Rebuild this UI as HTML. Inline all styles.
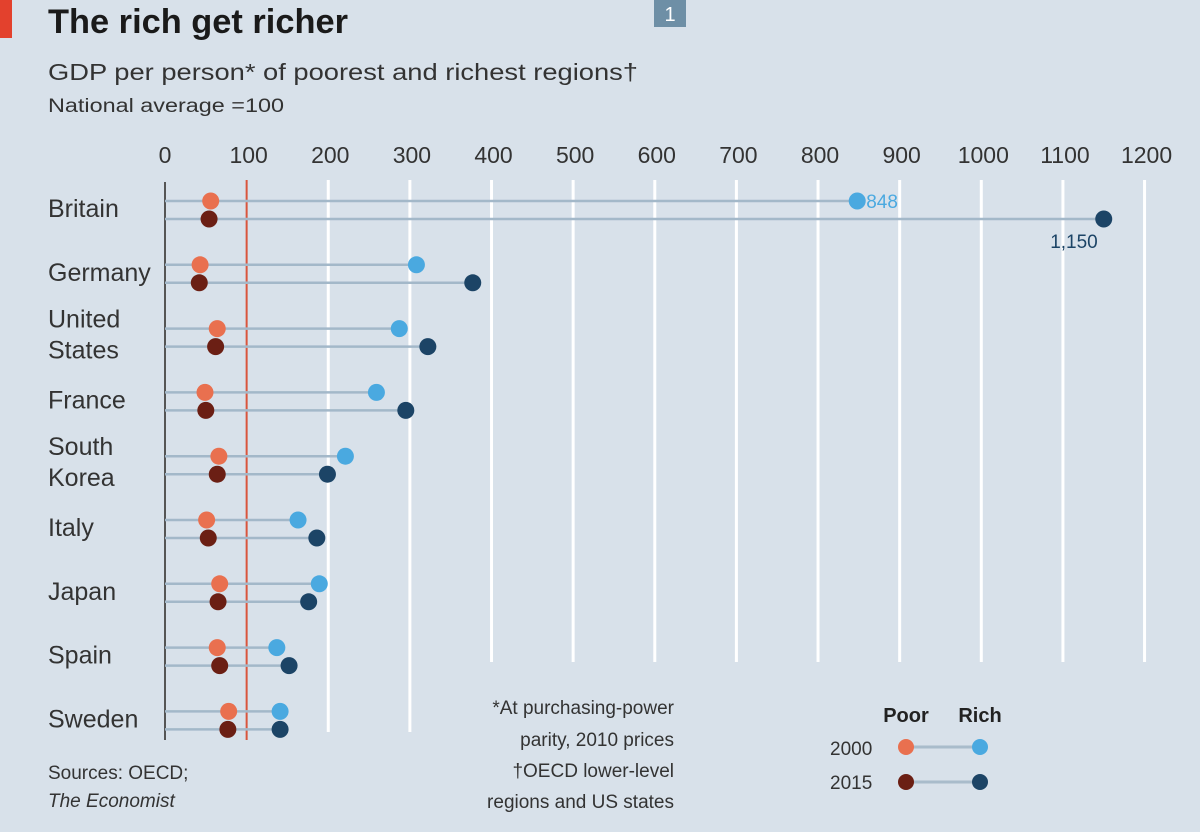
<!DOCTYPE html>
<html><head><meta charset="utf-8"><style>
body{margin:0;background:#d8e1ea;font-family:"Liberation Sans",sans-serif;}
#c{position:relative;width:1200px;height:832px;background:#d8e1ea;overflow:hidden}
</style></head><body>
<div id="c">
<svg id="s" width="1200" height="832">
<rect x="0" y="0" width="12" height="38" fill="#e3412d"/>
<text x="48" y="33" font-size="34" font-weight="bold" fill="#1a1a1a" textLength="300" lengthAdjust="spacingAndGlyphs">The rich get richer</text>
<rect x="654" y="0" width="32" height="27" fill="#6e8fa6"/>
<text x="670" y="21" font-size="20" fill="#fff" text-anchor="middle">1</text>
<text x="48" y="80" font-size="23" fill="#333" textLength="590" lengthAdjust="spacingAndGlyphs">GDP per person* of poorest and richest regions†</text>
<text x="48" y="112" font-size="19" fill="#333" textLength="236" lengthAdjust="spacingAndGlyphs">National average =100</text>
<g id="grid"></g><g id="rows"></g>
<text x="48" y="779" font-size="19" fill="#333">Sources: OECD;</text>
<text x="48" y="807" font-size="19" font-style="italic" fill="#333">The Economist</text>
<g font-size="19" fill="#333" text-anchor="end">
<text x="674" y="714">*At purchasing-power</text>
<text x="674" y="746">parity, 2010 prices</text>
<text x="674" y="777">†OECD lower-level</text>
<text x="674" y="808">regions and US states</text>
</g>
<g>
<text x="906" y="722" font-size="20" font-weight="bold" fill="#222" text-anchor="middle">Poor</text>
<text x="980" y="722" font-size="20" font-weight="bold" fill="#222" text-anchor="middle">Rich</text>
<text x="830" y="755" font-size="19" fill="#333">2000</text>
<text x="830" y="789" font-size="19" fill="#333">2015</text>
<line x1="906" y1="747" x2="980" y2="747" stroke="#a9bccb" stroke-width="3"/>
<line x1="906" y1="782" x2="980" y2="782" stroke="#a9bccb" stroke-width="3"/>
<circle cx="906" cy="747" r="8" fill="#e9704f"/><circle cx="980" cy="747" r="8" fill="#4aa9e0"/>
<circle cx="906" cy="782" r="8" fill="#6b1f14"/><circle cx="980" cy="782" r="8" fill="#1c4466"/>
</g>
</svg></div>
<script>
const countries=["Britain","Germany","United States","France","South Korea","Italy","Japan","Spain","Sweden"];
const poor2000=[56,43,64,49,66,51,67,64,78];
const poor2015=[54,42,62,50,64,53,65,67,77];
const rich2000=[848,308,287,259,221,163,189,137,141];
const rich2015=[1150,377,322,295,199,186,176,152,141];
const ticks=[0,100,200,300,400,500,600,700,800,900,1000,1100,1200];
const NS="http://www.w3.org/2000/svg";
const x=v=>165+v*0.8163;
const rowY=i=>201+i*63.8;
function mk(t,a,p){const e=document.createElementNS(NS,t);for(const k in a)e.setAttribute(k,a[k]);p.appendChild(e);return e;}
const g=document.getElementById('grid'),r=document.getElementById('rows');
ticks.forEach(t=>{
 const tx=mk('text',{x:x(t)+(t===0?0:2),y:163,'font-size':23,fill:'#333','text-anchor':'middle'},g);tx.textContent=t;
 
 
 if(t>0){const y2=t===100?740:(t<=300?732:662);
 const l=mk('line',{x1:x(t),y1:180,x2:x(t),y2:y2,stroke:t===100?'#d9553d':'#fff','stroke-width':t===100?2:3},g);
 
 }
});
const ax=mk('line',{x1:165,y1:182,x2:165,y2:740,stroke:'#555','stroke-width':2},g);


countries.forEach((c,i)=>{
 const y0=rowY(i),y1=y0+18;
 const parts=c.split(' ');
 const lines=parts.length>1?parts:[c];
 lines.forEach((ln,j)=>{const t=mk('text',{x:48,y:lines.length===1?y0+16:y0-1+j*31,'font-size':25,fill:'#333'},r);t.textContent=ln;
 
 });
 [[y0,rich2000[i]],[y1,rich2015[i]]].forEach(([yy,v])=>{
  const l=mk('line',{x1:165,y1:yy,x2:x(v),y2:yy,stroke:'#a3b8c9','stroke-width':2.5},r);
  
  });
 const dots=[[poor2000[i],y0,'#e9704f','poor-2000-dot'],[poor2015[i],y1,'#6b1f14','poor-2015-dot'],[rich2000[i],y0,'#4aa9e0','rich-2000-dot'],[rich2015[i],y1,'#1c4466','rich-2015-dot']];
 dots.forEach(([v,yy,col,n])=>{const d=mk('circle',{cx:x(v),cy:yy,r:8.5,fill:col},r);
  
  });
 if(i===0){
  const a=mk('text',{x:x(rich2000[0])+9,y:y0+7,'font-size':19,fill:'#4aa9e0'},r);a.textContent=rich2000[0];
  
  
  const b=mk('text',{x:x(rich2015[0])-6,y:y1+29,'font-size':19,fill:'#1c4466','text-anchor':'end'},r);b.textContent=rich2015[0].toLocaleString('en-US');
  
  
 }
});
</script>
</body></html>
